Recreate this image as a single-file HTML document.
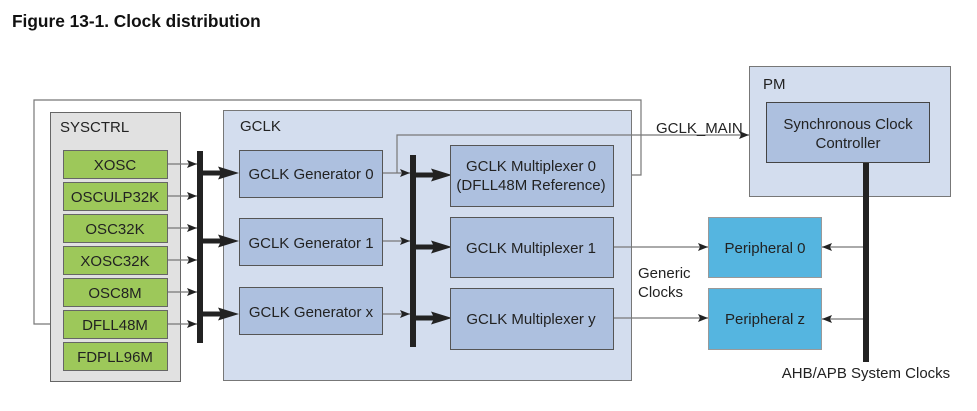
<!DOCTYPE html>
<html><head><meta charset="utf-8"><style>
html,body{margin:0;padding:0;background:#fff;}
svg{display:block;font-family:"Liberation Sans",Arial,sans-serif;}
</style></head><body>
<svg width="977" height="411" viewBox="0 0 977 411" xmlns="http://www.w3.org/2000/svg">
<defs>
<marker id="a" markerWidth="10" markerHeight="8" refX="10" refY="4" orient="auto" markerUnits="userSpaceOnUse"><path d="M0,0 L10,4 L0,8 L2,4Z" fill="#222"/></marker>
<g id="fat"><path d="M0,-2.5 L17,-2.5 L15,-6.5 L36,0 L15,6.5 L17,2.5 L0,2.5Z" fill="#222"/></g>
</defs>
<text x="12" y="27" font-size="17.3" font-weight="bold" fill="#111">Figure 13-1.  Clock distribution</text>

<polyline points="613,175 641,175 641,100 34,100 34,324 62,324" fill="none" stroke="#777" stroke-width="1.2" marker-end="url(#a)"/>

<rect x="50.5" y="112.5" width="130" height="269" fill="#e1e1e1" stroke="#666"/>
<text x="60" y="132" font-size="15" fill="#222">SYSCTRL</text>
<g font-size="15" fill="#222" text-anchor="middle">
<rect x="63.5" y="150.5" width="104" height="28" fill="#9dc85a" stroke="#666"/><text x="115" y="170">XOSC</text>
<rect x="63.5" y="182.5" width="104" height="28" fill="#9dc85a" stroke="#666"/><text x="115" y="202">OSCULP32K</text>
<rect x="63.5" y="214.5" width="104" height="28" fill="#9dc85a" stroke="#666"/><text x="115" y="234">OSC32K</text>
<rect x="63.5" y="246.5" width="104" height="28" fill="#9dc85a" stroke="#666"/><text x="115" y="266">XOSC32K</text>
<rect x="63.5" y="278.5" width="104" height="28" fill="#9dc85a" stroke="#666"/><text x="115" y="298">OSC8M</text>
<rect x="63.5" y="310.5" width="104" height="28" fill="#9dc85a" stroke="#666"/><text x="115" y="330">DFLL48M</text>
<rect x="63.5" y="342.5" width="104" height="28" fill="#9dc85a" stroke="#666"/><text x="115" y="362">FDPLL96M</text>
</g>
<g stroke="#777" stroke-width="1.2" marker-end="url(#a)">
<line x1="168" y1="164" x2="197" y2="164"/>
<line x1="168" y1="196" x2="197" y2="196"/>
<line x1="168" y1="228" x2="197" y2="228"/>
<line x1="168" y1="260" x2="197" y2="260"/>
<line x1="168" y1="292" x2="197" y2="292"/>
<line x1="168" y1="324" x2="197" y2="324"/>
</g>
<rect x="197" y="151" width="6" height="192" fill="#222"/>

<rect x="223.5" y="110.5" width="408" height="270" fill="#d3ddee" stroke="#777"/>
<text x="240" y="131" font-size="15" fill="#222">GCLK</text>
<use href="#fat" x="203" y="173"/>
<use href="#fat" x="203" y="241"/>
<use href="#fat" x="203" y="314"/>
<g font-size="15" fill="#222" text-anchor="middle">
<rect x="239.5" y="150.5" width="143" height="47" fill="#adc0df" stroke="#555"/><text x="311" y="179">GCLK Generator 0</text>
<rect x="239.5" y="218.5" width="143" height="47" fill="#adc0df" stroke="#555"/><text x="311" y="248">GCLK Generator 1</text>
<rect x="239.5" y="287.5" width="143" height="47" fill="#adc0df" stroke="#555"/><text x="311" y="317">GCLK Generator x</text>
</g>
<g stroke="#777" stroke-width="1.2" marker-end="url(#a)">
<line x1="383" y1="173" x2="410" y2="173"/>
<line x1="383" y1="241" x2="410" y2="241"/>
<line x1="383" y1="314" x2="410" y2="314"/>
</g>
<polyline points="397,173 397,135 749,135" fill="none" stroke="#777" stroke-width="1.2" marker-end="url(#a)"/>
<text x="656" y="133" font-size="15" fill="#222">GCLK_MAIN</text>
<rect x="410" y="155" width="6" height="192" fill="#222"/>
<use href="#fat" x="416" y="175"/>
<use href="#fat" x="416" y="247"/>
<use href="#fat" x="416" y="318"/>
<g font-size="15" fill="#222" text-anchor="middle">
<rect x="450.5" y="145.5" width="163" height="61" fill="#adc0df" stroke="#555"/><text x="531" y="171">GCLK Multiplexer 0</text><text x="531" y="190">(DFLL48M Reference)</text>
<rect x="450.5" y="217.5" width="163" height="60" fill="#adc0df" stroke="#555"/><text x="531" y="253">GCLK Multiplexer 1</text>
<rect x="450.5" y="288.5" width="163" height="61" fill="#adc0df" stroke="#555"/><text x="531" y="324">GCLK Multiplexer y</text>
</g>
<g stroke="#777" stroke-width="1.2" marker-end="url(#a)">
<line x1="614" y1="247" x2="708" y2="247"/>
<line x1="614" y1="318" x2="708" y2="318"/>
<line x1="863" y1="247" x2="822" y2="247"/>
<line x1="863" y1="319" x2="822" y2="319"/>
</g>
<text x="638" y="278" font-size="15" fill="#222">Generic</text>
<text x="638" y="297" font-size="15" fill="#222">Clocks</text>

<rect x="749.5" y="66.5" width="201" height="130" fill="#d3ddee" stroke="#777"/>
<text x="763" y="89" font-size="15" fill="#222">PM</text>
<rect x="766.5" y="102.5" width="163" height="60" fill="#adc0df" stroke="#444"/>
<g font-size="15" fill="#222" text-anchor="middle">
<text x="848" y="129">Synchronous Clock</text><text x="848" y="148">Controller</text>
<rect x="708.5" y="217.5" width="113" height="60" fill="#55b5e0" stroke="#999"/><text x="765" y="253">Peripheral 0</text>
<rect x="708.5" y="288.5" width="113" height="61" fill="#55b5e0" stroke="#999"/><text x="765" y="324">Peripheral z</text>
<text x="866" y="378">AHB/APB System Clocks</text>
</g>
<rect x="863" y="163" width="6" height="199" fill="#222"/>
</svg>
</body></html>
